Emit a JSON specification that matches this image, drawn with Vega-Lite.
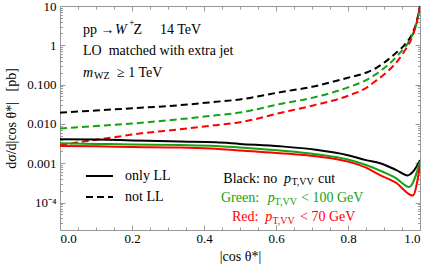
{
  "$schema": "https://vega.github.io/schema/vega-lite/v6.json",
  "width": 360,
  "height": 224,
  "autosize": {"type": "none"},
  "padding": {"left": 60, "top": 6, "right": 12, "bottom": 44},
  "config": {
    "view": {"stroke": null},
    "font": "Liberation Serif",
    "axis": {"labelFont": "Liberation Serif", "titleFont": "Liberation Serif", "labelFontSize": 13, "titleFontSize": 14, "titleFontWeight": "normal", "labelColor": "#000", "titleColor": "#000", "domainColor": "#999", "tickColor": "#999", "grid": false}
  },
  "datasets": {
    "curves": [
      {"c": 0, "v": 0.0193, "cut": "Black", "type": "not LL"},
      {"c": 0.1, "v": 0.022, "cut": "Black", "type": "not LL"},
      {"c": 0.2, "v": 0.025, "cut": "Black", "type": "not LL"},
      {"c": 0.333, "v": 0.030, "cut": "Black", "type": "not LL"},
      {"c": 0.433, "v": 0.0365, "cut": "Black", "type": "not LL"},
      {"c": 0.5, "v": 0.042, "cut": "Black", "type": "not LL"},
      {"c": 0.611, "v": 0.064, "cut": "Black", "type": "not LL"},
      {"c": 0.7, "v": 0.088, "cut": "Black", "type": "not LL"},
      {"c": 0.8, "v": 0.15, "cut": "Black", "type": "not LL"},
      {"c": 0.85, "v": 0.2, "cut": "Black", "type": "not LL"},
      {"c": 0.88, "v": 0.27, "cut": "Black", "type": "not LL"},
      {"c": 0.9, "v": 0.36, "cut": "Black", "type": "not LL"},
      {"c": 0.93, "v": 0.6, "cut": "Black", "type": "not LL"},
      {"c": 0.96, "v": 1.1, "cut": "Black", "type": "not LL"},
      {"c": 0.98, "v": 2.1, "cut": "Black", "type": "not LL"},
      {"c": 0.99, "v": 3.8, "cut": "Black", "type": "not LL"},
      {"c": 1.0, "v": 10, "cut": "Black", "type": "not LL"},

      {"c": 0, "v": 0.0077, "cut": "Green", "type": "not LL"},
      {"c": 0.1, "v": 0.0088, "cut": "Green", "type": "not LL"},
      {"c": 0.2, "v": 0.0102, "cut": "Green", "type": "not LL"},
      {"c": 0.333, "v": 0.0132, "cut": "Green", "type": "not LL"},
      {"c": 0.433, "v": 0.0165, "cut": "Green", "type": "not LL"},
      {"c": 0.5, "v": 0.0195, "cut": "Green", "type": "not LL"},
      {"c": 0.611, "v": 0.032, "cut": "Green", "type": "not LL"},
      {"c": 0.7, "v": 0.046, "cut": "Green", "type": "not LL"},
      {"c": 0.8, "v": 0.085, "cut": "Green", "type": "not LL"},
      {"c": 0.85, "v": 0.13, "cut": "Green", "type": "not LL"},
      {"c": 0.88, "v": 0.19, "cut": "Green", "type": "not LL"},
      {"c": 0.9, "v": 0.26, "cut": "Green", "type": "not LL"},
      {"c": 0.94, "v": 0.58, "cut": "Green", "type": "not LL"},
      {"c": 0.97, "v": 1.3, "cut": "Green", "type": "not LL"},
      {"c": 0.99, "v": 3.5, "cut": "Green", "type": "not LL"},
      {"c": 1.0, "v": 10, "cut": "Green", "type": "not LL"},

      {"c": 0, "v": 0.0029, "cut": "Red", "type": "not LL"},
      {"c": 0.05, "v": 0.0034, "cut": "Red", "type": "not LL"},
      {"c": 0.13, "v": 0.0043, "cut": "Red", "type": "not LL"},
      {"c": 0.222, "v": 0.0057, "cut": "Red", "type": "not LL"},
      {"c": 0.333, "v": 0.0073, "cut": "Red", "type": "not LL"},
      {"c": 0.433, "v": 0.0093, "cut": "Red", "type": "not LL"},
      {"c": 0.5, "v": 0.011, "cut": "Red", "type": "not LL"},
      {"c": 0.611, "v": 0.019, "cut": "Red", "type": "not LL"},
      {"c": 0.7, "v": 0.029, "cut": "Red", "type": "not LL"},
      {"c": 0.8, "v": 0.052, "cut": "Red", "type": "not LL"},
      {"c": 0.85, "v": 0.082, "cut": "Red", "type": "not LL"},
      {"c": 0.88, "v": 0.13, "cut": "Red", "type": "not LL"},
      {"c": 0.9, "v": 0.18, "cut": "Red", "type": "not LL"},
      {"c": 0.954, "v": 0.65, "cut": "Red", "type": "not LL"},
      {"c": 0.98, "v": 1.8, "cut": "Red", "type": "not LL"},
      {"c": 0.99, "v": 3.5, "cut": "Red", "type": "not LL"},
      {"c": 1.0, "v": 9.5, "cut": "Red", "type": "not LL"},

      {"c": 0, "v": 0.0041, "cut": "Black", "type": "only LL"},
      {"c": 0.1, "v": 0.0040, "cut": "Black", "type": "only LL"},
      {"c": 0.2, "v": 0.0038, "cut": "Black", "type": "only LL"},
      {"c": 0.333, "v": 0.00355, "cut": "Black", "type": "only LL"},
      {"c": 0.433, "v": 0.0034, "cut": "Black", "type": "only LL"},
      {"c": 0.5, "v": 0.0031, "cut": "Black", "type": "only LL"},
      {"c": 0.611, "v": 0.0027, "cut": "Black", "type": "only LL"},
      {"c": 0.711, "v": 0.0022, "cut": "Black", "type": "only LL"},
      {"c": 0.8, "v": 0.0016, "cut": "Black", "type": "only LL"},
      {"c": 0.85, "v": 0.0012, "cut": "Black", "type": "only LL"},
      {"c": 0.889, "v": 0.001, "cut": "Black", "type": "only LL"},
      {"c": 0.933, "v": 0.00068, "cut": "Black", "type": "only LL"},
      {"c": 0.966, "v": 0.00049, "cut": "Black", "type": "only LL"},
      {"c": 0.98, "v": 0.0006, "cut": "Black", "type": "only LL"},
      {"c": 1.0, "v": 0.0012, "cut": "Black", "type": "only LL"},

      {"c": 0, "v": 0.0032, "cut": "Green", "type": "only LL"},
      {"c": 0.1, "v": 0.0031, "cut": "Green", "type": "only LL"},
      {"c": 0.2, "v": 0.0030, "cut": "Green", "type": "only LL"},
      {"c": 0.333, "v": 0.0029, "cut": "Green", "type": "only LL"},
      {"c": 0.433, "v": 0.00275, "cut": "Green", "type": "only LL"},
      {"c": 0.5, "v": 0.0025, "cut": "Green", "type": "only LL"},
      {"c": 0.611, "v": 0.0021, "cut": "Green", "type": "only LL"},
      {"c": 0.711, "v": 0.0017, "cut": "Green", "type": "only LL"},
      {"c": 0.8, "v": 0.00125, "cut": "Green", "type": "only LL"},
      {"c": 0.85, "v": 0.0009, "cut": "Green", "type": "only LL"},
      {"c": 0.889, "v": 0.00065, "cut": "Green", "type": "only LL"},
      {"c": 0.933, "v": 0.00042, "cut": "Green", "type": "only LL"},
      {"c": 0.97, "v": 0.00025, "cut": "Green", "type": "only LL"},
      {"c": 1.0, "v": 0.0011, "cut": "Green", "type": "only LL"},

      {"c": 0, "v": 0.00275, "cut": "Red", "type": "only LL"},
      {"c": 0.1, "v": 0.0027, "cut": "Red", "type": "only LL"},
      {"c": 0.2, "v": 0.0026, "cut": "Red", "type": "only LL"},
      {"c": 0.333, "v": 0.0025, "cut": "Red", "type": "only LL"},
      {"c": 0.433, "v": 0.00234, "cut": "Red", "type": "only LL"},
      {"c": 0.5, "v": 0.0021, "cut": "Red", "type": "only LL"},
      {"c": 0.611, "v": 0.0018, "cut": "Red", "type": "only LL"},
      {"c": 0.711, "v": 0.0015, "cut": "Red", "type": "only LL"},
      {"c": 0.8, "v": 0.0011, "cut": "Red", "type": "only LL"},
      {"c": 0.85, "v": 0.00077, "cut": "Red", "type": "only LL"},
      {"c": 0.889, "v": 0.0005, "cut": "Red", "type": "only LL"},
      {"c": 0.933, "v": 0.00032, "cut": "Red", "type": "only LL"},
      {"c": 0.98, "v": 0.00015, "cut": "Red", "type": "only LL"},
      {"c": 1.0, "v": 0.00089, "cut": "Red", "type": "only LL"}
    ],
    "plain": [
      {"x": 0.0639, "y": 2.45, "t": "pp →", "g": "Black"},
      {"x": 0.2040, "y": 2.45, "t": "Z", "g": "Black"},
      {"x": 0.2778, "y": 2.45, "t": "14 TeV", "g": "Black"},
      {"x": 0.0639, "y": 0.716, "t": "LO\u00a0\u00a0matched with extra jet", "g": "Black"},
      {"x": 0.1583, "y": 0.197, "t": "≥ 1 TeV", "g": "Black"},
      {"x": 0.1806, "y": 0.000472, "t": "only LL", "g": "Black"},
      {"x": 0.1806, "y": 0.000138, "t": "not LL", "g": "Black"},
      {"x": 0.4536, "y": 0.000404, "t": "Black: no", "g": "Black"},
      {"x": 0.7167, "y": 0.000404, "t": "cut", "g": "Black"},
      {"x": 0.4472, "y": 0.000130, "t": "Green:", "g": "Green"},
      {"x": 0.6694, "y": 0.000130, "t": "< 100 GeV", "g": "Green"},
      {"x": 0.4778, "y": 0.0000427, "t": "Red:", "g": "Red"},
      {"x": 0.6667, "y": 0.0000427, "t": "< 70 GeV", "g": "Red"}
    ],
    "italic": [
      {"x": 0.1530, "y": 2.45, "t": "W", "g": "Black"},
      {"x": 0.0639, "y": 0.197, "t": "m", "g": "Black"},
      {"x": 0.6222, "y": 0.000404, "t": "p", "g": "Black"},
      {"x": 0.5769, "y": 0.000130, "t": "p", "g": "Green"},
      {"x": 0.5703, "y": 0.0000427, "t": "p", "g": "Red"}
    ],
    "small": [
      {"x": 0.1920, "y": 3.69, "t": "+", "g": "Black"},
      {"x": 0.0944, "y": 0.1655, "t": "WZ", "g": "Black"},
      {"x": 0.6430, "y": 0.000333, "t": "T,VV", "g": "Black"},
      {"x": 0.5960, "y": 0.000106, "t": "T,VV", "g": "Green"},
      {"x": 0.5900, "y": 0.0000348, "t": "T,VV", "g": "Red"}
    ],
    "legend": [
      {"x": 0.0722, "x2": 0.1472, "y": 0.000472, "type": "only LL"},
      {"x": 0.0722, "x2": 0.1472, "y": 0.000138, "type": "not LL"}
    ]
  },
  "resolve": {"axis": {"x": "independent", "y": "independent"}},
  "layer": [
    {
      "data": {"name": "curves"},
      "transform": [{"filter": "datum.type == 'not LL'"}],
      "mark": {"type": "line", "strokeWidth": 2, "strokeDash": [7, 4], "interpolate": "monotone", "clip": true},
      "encoding": {
        "x": {"field": "c", "type": "quantitative", "scale": {"domain": [0, 1], "nice": false},
          "axis": {"orient": "top", "values": [0,0.05,0.1,0.15,0.2,0.25,0.3,0.35,0.4,0.45,0.5,0.55,0.6,0.65,0.7,0.75,0.8,0.85,0.9,0.95,1], "labels": false, "title": null,
            "tickSize": {"condition": {"test": "abs(datum.value*5 - round(datum.value*5)) < 0.001", "value": -5}, "value": -3}}},
        "y": {"field": "v", "type": "quantitative", "scale": {"type": "log", "domain": [0.00002, 10], "nice": false},
          "axis": {"orient": "right", "values": [0.00002,0.00003,0.00004,0.00005,0.00006,0.00007,0.00008,0.00009,0.0001,0.0002,0.0003,0.0004,0.0005,0.0006,0.0007,0.0008,0.0009,0.001,0.002,0.003,0.004,0.005,0.006,0.007,0.008,0.009,0.01,0.02,0.03,0.04,0.05,0.06,0.07,0.08,0.09,0.1,0.2,0.3,0.4,0.5,0.6,0.7,0.8,0.9,1,2,3,4,5,6,7,8,9,10], "labels": false, "title": null,
            "tickSize": {"condition": {"test": "indexof([10,1,0.1,0.01,0.001,0.0001], datum.value) >= 0", "value": -5}, "value": -2.5}}},
        "color": {"field": "cut", "type": "nominal", "scale": {"domain": ["Black", "Green", "Red"], "range": ["#000000", "#13a313", "#ff0000"]}, "legend": null},
        "detail": {"field": "cut"}
      }
    },
    {
      "data": {"name": "curves"},
      "transform": [{"filter": "datum.type == 'only LL'"}],
      "mark": {"type": "line", "strokeWidth": 2, "interpolate": "monotone", "clip": true},
      "encoding": {
        "x": {"field": "c", "type": "quantitative", "scale": {"domain": [0, 1], "nice": false},
          "axis": {"orient": "bottom", "values": [0,0.05,0.1,0.15,0.2,0.25,0.3,0.35,0.4,0.45,0.5,0.55,0.6,0.65,0.7,0.75,0.8,0.85,0.9,0.95,1],
            "labelExpr": "abs(datum.value*5 - round(datum.value*5)) < 0.001 ? format(datum.value, '.1f') : ''",
            "labelFont": "Liberation Serif", "titleFont": "Liberation Serif",
            "labelPadding": 7, "title": "|cos θ*|", "titlePadding": 4,
            "tickSize": {"condition": {"test": "abs(datum.value*5 - round(datum.value*5)) < 0.001", "value": -5}, "value": -3}}},
        "y": {"field": "v", "type": "quantitative", "scale": {"type": "log", "domain": [0.00002, 10], "nice": false},
          "axis": {"orient": "left", "values": [0.00002,0.00003,0.00004,0.00005,0.00006,0.00007,0.00008,0.00009,0.0001,0.0002,0.0003,0.0004,0.0005,0.0006,0.0007,0.0008,0.0009,0.001,0.002,0.003,0.004,0.005,0.006,0.007,0.008,0.009,0.01,0.02,0.03,0.04,0.05,0.06,0.07,0.08,0.09,0.1,0.2,0.3,0.4,0.5,0.6,0.7,0.8,0.9,1,2,3,4,5,6,7,8,9,10],
            "labelExpr": "datum.value == 10 ? '10' : datum.value == 1 ? '1' : datum.value == 0.1 ? '0.100' : datum.value == 0.01 ? '0.010' : datum.value == 0.001 ? '0.001' : datum.value == 0.0001 ? '10⁻⁴' : ''",
            "labelFont": "Liberation Serif", "titleFont": "Liberation Serif",
            "labelPadding": 9, "title": "dσ/d|cos θ*|\u00a0\u00a0\u00a0[pb]", "titlePadding": 8,
            "tickSize": {"condition": {"test": "indexof([10,1,0.1,0.01,0.001,0.0001], datum.value) >= 0", "value": -5}, "value": -2.5}}},
        "color": {"field": "cut", "type": "nominal", "legend": null},
        "detail": {"field": "cut"}
      }
    },
    {
      "data": {"name": "legend"},
      "mark": {"type": "rule", "strokeWidth": 2, "color": "#000"},
      "encoding": {
        "x": {"field": "x", "type": "quantitative", "axis": null},
        "x2": {"field": "x2"},
        "y": {"field": "y", "type": "quantitative", "axis": null},
        "strokeDash": {"field": "type", "type": "nominal", "scale": {"domain": ["only LL", "not LL"], "range": [[1, 0], [7, 4]]}, "legend": null}
      }
    },
    {
      "data": {"name": "plain"},
      "mark": {"type": "text", "align": "left", "baseline": "middle", "font": "Liberation Serif", "fontSize": 14},
      "encoding": {
        "x": {"field": "x", "type": "quantitative", "axis": null},
        "y": {"field": "y", "type": "quantitative", "axis": null},
        "text": {"field": "t"},
        "color": {"field": "g", "type": "nominal", "legend": null}
      }
    },
    {
      "data": {"name": "italic"},
      "mark": {"type": "text", "align": "left", "baseline": "middle", "font": "Liberation Serif", "fontSize": 14, "fontStyle": "italic"},
      "encoding": {
        "x": {"field": "x", "type": "quantitative", "axis": null},
        "y": {"field": "y", "type": "quantitative", "axis": null},
        "text": {"field": "t"},
        "color": {"field": "g", "type": "nominal", "legend": null}
      }
    },
    {
      "data": {"name": "small"},
      "mark": {"type": "text", "align": "left", "baseline": "middle", "font": "Liberation Serif", "fontSize": 10},
      "encoding": {
        "x": {"field": "x", "type": "quantitative", "axis": null},
        "y": {"field": "y", "type": "quantitative", "axis": null},
        "text": {"field": "t"},
        "color": {"field": "g", "type": "nominal", "legend": null}
      }
    }
  ]
}
